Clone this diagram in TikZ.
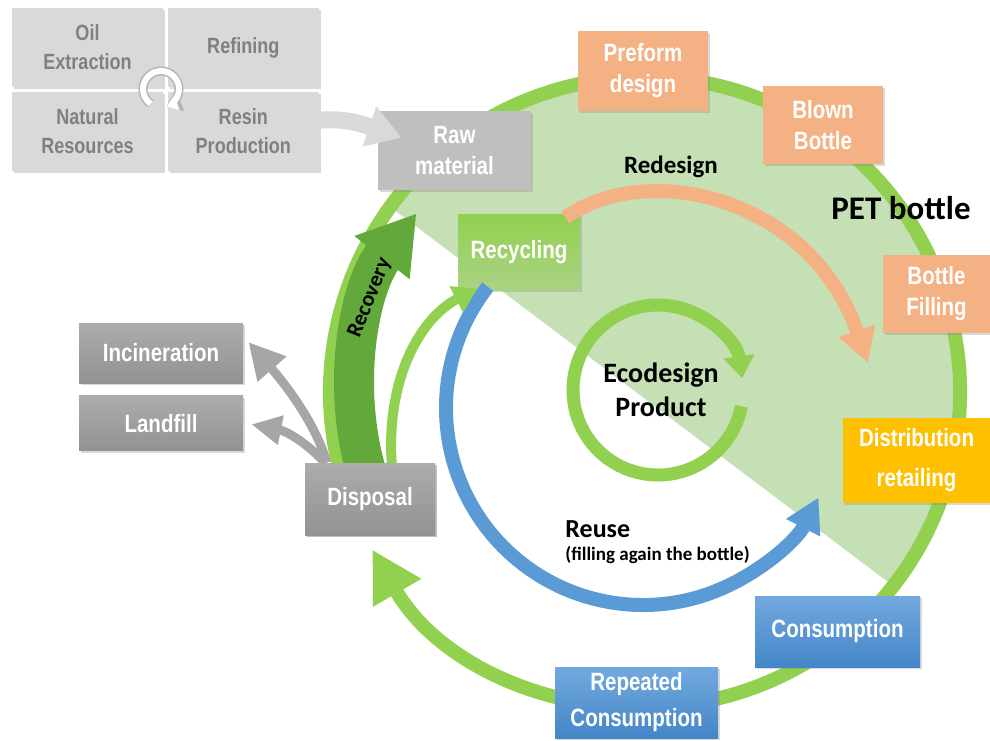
\documentclass[tikz,border=0pt]{standalone}
\usepackage{fontspec}
\setmainfont{Carlito}
\newfontfamily\boxfont{Liberation Sans}[FakeStretch=0.82]
\usetikzlibrary{arrows.meta,positioning,calc,shadows}

\definecolor{ringgreen}{RGB}{146,208,80}
\definecolor{zonegreen}{RGB}{197,224,180}
\definecolor{deepgreen}{RGB}{98,168,58}
\definecolor{paleleaf}{RGB}{170,211,132}
\definecolor{salmon}{RGB}{244,177,131}
\definecolor{gold}{RGB}{255,192,0}
\definecolor{reuseblue}{RGB}{91,155,213}
\definecolor{skyblue}{RGB}{114,169,222}
\definecolor{navyblue}{RGB}{68,134,200}
\definecolor{palegrey}{RGB}{217,217,217}
\definecolor{midgrey}{RGB}{191,191,191}
\definecolor{darkgrey}{RGB}{166,166,166}
\definecolor{lightslate}{RGB}{172,172,172}
\definecolor{slate}{RGB}{146,146,146}
\definecolor{quadtext}{RGB}{128,128,128}

\tikzset{
  boxsize/.style 2 args={minimum width=#1*0.5pt, minimum height=#2*0.5pt},
  stage/.style={rectangle, inner sep=0pt, align=center, text=white,
    font=\boxfont\bfseries\fontsize{12.5}{15.5}\selectfont,
    drop shadow={shadow xshift=1pt, shadow yshift=-1pt, opacity=0.3}},
  quadbox/.style={stage, fill=palegrey, text=quadtext, boxsize={151}{79},
    font=\boxfont\bfseries\fontsize{11}{14.5}\selectfont},
  bottlebox/.style={stage, fill=salmon},
  usebox/.style={stage, top color=skyblue, bottom color=navyblue},
  endbox/.style={stage, top color=lightslate, bottom color=slate},
  tagtext/.style={text=black, inner sep=0pt, font=\bfseries\fontsize{12.5}{15}\selectfont}
}

\begin{document}
\begin{tikzpicture}[x=0.5pt, y=0.5pt]
  \useasboundingbox (0,0) rectangle (990,-740);

  % life cycle ring and the PET bottle zone
  \coordinate (ringc) at (645,-392);
  \coordinate (reusec) at (643,-408);
  \coordinate (ecoc) at (658,-390);
  \fill[zonegreen] ($(ringc)+(144:315)$) arc[start angle=144, end angle=-38, radius=315] -- cycle;
  \draw[ringgreen, line width=7pt, -{Triangle[width=26pt,length=25pt]}]
    ($(ringc)+(198:315)$) arc[start angle=198, end angle=-150, radius=315];
  \draw[deepgreen, line width=20pt, -{Triangle[width=33pt,length=28pt]}]
    ($(ringc)+(196:290)$) arc[start angle=196, end angle=142, radius=290];

  % stages of the bottle
  \node[stage, fill=midgrey, boxsize={153}{79}] (raw) at (454.5,-150.5) {Raw\\material};
  \node[bottlebox, boxsize={130}{80}] (preform) at (643,-71) {Preform\\design};
  \node[bottlebox, boxsize={120}{78}] (blown) at (823,-125) {Blown\\Bottle};
  \node[bottlebox, boxsize={107}{78}] (filling) at (936.5,-294) {Bottle\\Filling};
  \node[stage, fill=gold, boxsize={147}{85}, font=\boxfont\bfseries\fontsize{12.5}{20}\selectfont]
    (distrib) at (916.5,-460.5) {Distribution\\retailing};
  \node[usebox, boxsize={165}{71}] (consum) at (837.5,-631.5) {Consumption};
  \node[usebox, boxsize={163}{71}, font=\boxfont\bfseries\fontsize{12.5}{18}\selectfont]
    (repeated) at (636.5,-702.5) {Repeated\\Consumption};
  \node[stage, top color=ringgreen, bottom color=paleleaf, boxsize={122}{76}] (recycling) at (519,-252) {Recycling};
  \node[endbox, boxsize={130}{72}] (disposal) at (370,-499) {Disposal};
  \node[endbox, boxsize={164}{60}] (incin) at (161,-353) {Incineration};
  \node[endbox, boxsize={164}{55}] (landfill) [below=6pt of incin] {Landfill};

  % inner loops
  \draw[reuseblue, line width=7pt, -{Triangle[width=18pt,length=17pt]}]
    ($(reusec)+(142:197)$) arc[start angle=142, end angle=333, radius=197];
  \draw[salmon, line width=7pt, -{Triangle[width=18pt,length=17pt]}]
    ($(recycling.north east)+(-15,-4)$) .. controls (645,-160) and (810,-195) .. (868,-363);
  \draw[ringgreen, line width=5pt, -{Triangle[width=14pt,length=12pt]}]
    ($(disposal.north)+(22,-5)$) .. controls (385,-380) and (420,-318) .. ($(recycling.south west)+(20,2)$);
  \draw[ringgreen, line width=6.5pt, -{Triangle[width=15pt,length=11pt]}]
    ($(ecoc)+(-11:85)$) arc[start angle=-11, end angle=-352, radius=85];

  % end of life
  \draw[darkgrey, line width=4.5pt, -{Triangle[width=18pt,length=18pt]}]
    ($(disposal.north west)+(22,0)$) .. controls (318,-430) and (292,-392) .. ($(incin.east)+(5,11)$);
  \draw[darkgrey, line width=4.5pt, -{Triangle[width=14pt,length=15pt]}]
    ($(disposal.north west)+(20,0)$) .. controls (312,-448) and (290,-432) .. ($(landfill.east)+(8,-1)$);
  \node[endbox, boxsize={130}{72}] at (disposal) {Disposal};

  % resin supply
  \node[quadbox] (oil) at (87.5,-47.5) {Oil\\Extraction};
  \node[quadbox] (refining) [right=2pt of oil] {Refining};
  \node[quadbox] (natural) [below=2pt of oil] {Natural\\Resources};
  \node[quadbox] (resin) [right=2pt of natural] {Resin\\Production};
  \coordinate (turn) at (161,-89);
  \draw[quadtext!60, line width=4.5pt, -{Triangle[width=10pt,length=7pt]}]
    ($(turn)+(235:18)$) arc[start angle=235, end angle=-70, radius=18];
  \draw[white, line width=3pt, -{Triangle[width=7.5pt,length=5.5pt]}]
    ($(turn)+(235:18)$) arc[start angle=235, end angle=-72, radius=18];
  \draw[palegrey, line width=8.5pt, -{Triangle[width=20pt,length=17pt]}]
    ($(resin.east)+(0,11)$) .. controls (345,-118) and (362,-124) .. ($(raw.west)+(24,13)$);

  % labels
  \node[tagtext, anchor=base] (redesign) at (671,-173) {Redesign};
  \node[tagtext, anchor=base, font=\bfseries\fontsize{16.5}{20}\selectfont] (pet) at (901,-219) {PET bottle};
  \node[tagtext, align=center, font=\bfseries\fontsize{14}{17}\selectfont] (eco) at (661,-390) {Ecodesign\\Product};
  \node[tagtext, anchor=base west, font=\bfseries\fontsize{13}{15}\selectfont] (reuse) at (565,-537) {Reuse};
  \node[tagtext, anchor=base west, font=\bfseries\fontsize{9.5}{11}\selectfont] (reusenote) at (565,-560) {(filling again the bottle)};
  \node[tagtext, rotate=68, font=\bfseries\fontsize{11}{13}\selectfont] (recov) at (370,-298) {Recovery};
\end{tikzpicture}
\end{document}
